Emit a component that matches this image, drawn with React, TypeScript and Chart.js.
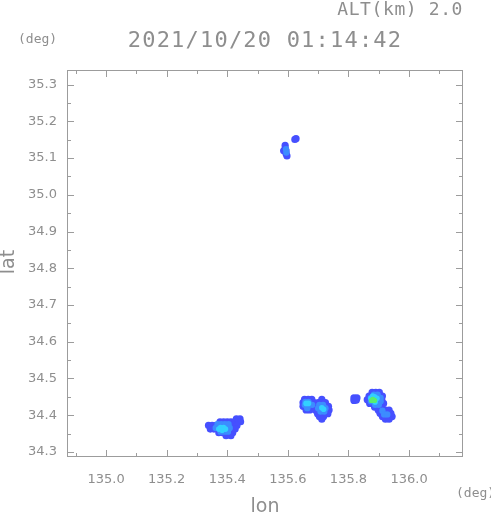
import React, { useEffect, useRef } from 'react';
import { Chart, registerables } from 'chart.js';

Chart.register(...registerables);

const xMin = 134.871;
const xMax = 136.178;
const yMin = 34.286;
const yMax = 35.34;

const titleText = '2021/10/20 01:14:42';
const altText = 'ALT(km) 2.0';
const unitText = '(deg)';
const xTitle = 'lon';
const yTitle = 'lat';

// Level 1 (weak echo, blue)
const level1Lon = [
  135.430, 135.442,
  135.376, 135.388, 135.400, 135.412, 135.424, 135.436, 135.444,
  135.338, 135.350, 135.362, 135.374, 135.386, 135.398, 135.410, 135.422, 135.432,
  135.344, 135.356, 135.368, 135.380, 135.392, 135.404, 135.416, 135.426,
  135.372, 135.384, 135.396, 135.408, 135.418,
  135.396, 135.412,
  135.655, 135.667, 135.679, 135.712,
  135.650, 135.662, 135.674, 135.686, 135.700, 135.712, 135.724,
  135.650, 135.662, 135.674, 135.686, 135.698, 135.710, 135.722, 135.734,
  135.660, 135.672, 135.690, 135.702, 135.714, 135.726, 135.736,
  135.698, 135.710, 135.722, 135.732,
  135.704, 135.718, 135.712,
  135.818, 135.828, 135.818, 135.826,
  135.878, 135.890, 135.902,
  135.868, 135.880, 135.892, 135.904, 135.912,
  135.862, 135.874, 135.886, 135.898, 135.910,
  135.870, 135.882, 135.894, 135.906, 135.916,
  135.886, 135.898, 135.908,
  135.898, 135.910, 135.922, 135.934,
  135.904, 135.916, 135.928, 135.940,
  135.912, 135.924, 135.936, 135.944,
  135.922, 135.934,
  135.591, 135.591, 135.594, 135.594, 135.597, 135.586,
  135.627, 135.623,
];
const level1Lat = [
  34.390, 34.390,
  34.382, 34.382, 34.382, 34.382, 34.382, 34.382, 34.382,
  34.372, 34.372, 34.372, 34.372, 34.372, 34.372, 34.372, 34.372, 34.372,
  34.362, 34.362, 34.362, 34.362, 34.362, 34.362, 34.362, 34.362,
  34.352, 34.352, 34.352, 34.352, 34.352,
  34.344, 34.344,
  34.443, 34.443, 34.443, 34.443,
  34.434, 34.434, 34.434, 34.434, 34.434, 34.434, 34.434,
  34.424, 34.424, 34.424, 34.424, 34.424, 34.424, 34.424, 34.424,
  34.414, 34.414, 34.414, 34.414, 34.414, 34.414, 34.414,
  34.404, 34.404, 34.404, 34.404,
  34.396, 34.396, 34.389,
  34.447, 34.447, 34.440, 34.441,
  34.462, 34.462, 34.462,
  34.452, 34.452, 34.452, 34.452, 34.452,
  34.442, 34.442, 34.442, 34.442, 34.442,
  34.432, 34.432, 34.432, 34.432, 34.432,
  34.422, 34.422, 34.422,
  34.414, 34.414, 34.414, 34.414,
  34.405, 34.405, 34.405, 34.405,
  34.396, 34.396, 34.396, 34.396,
  34.389, 34.389,
  35.135, 35.127, 35.120, 35.112, 35.106, 35.120,
  35.153, 35.151,
];

// Level 2 (moderate echo, light blue)
const level2Lon = [
  135.368, 135.380, 135.392, 135.404,
  135.362, 135.374, 135.398, 135.408,
  135.378, 135.390, 135.402,
  135.658, 135.668,
  135.656, 135.668, 135.680, 135.704, 135.716,
  135.664, 135.700, 135.712, 135.724,
  135.708, 135.720,
  135.884, 135.896,
  135.874, 135.886, 135.898, 135.906,
  135.874, 135.896, 135.906,
  135.888, 135.900,
  135.912,
  135.918, 135.928,
  135.594, 135.595,
];
const level2Lat = [
  34.375, 34.375, 34.375, 34.375,
  34.365, 34.365, 34.365, 34.365,
  34.355, 34.355, 34.355,
  34.436, 34.436,
  34.428, 34.428, 34.428, 34.428, 34.428,
  34.419, 34.419, 34.419, 34.419,
  34.410, 34.410,
  34.456, 34.456,
  34.447, 34.447, 34.447, 34.447,
  34.438, 34.438, 34.438,
  34.428, 34.428,
  34.412,
  34.402, 34.402,
  35.124, 35.115,
];

// Level 3 (strong echo, cyan)
const level3Lon = [
  135.378, 135.388, 135.383, 135.372, 135.394,
  135.660, 135.668, 135.712, 135.718,
  135.886, 135.894, 135.888, 135.874, 135.880,
];
const level3Lat = [
  34.366, 34.366, 34.359, 34.362, 34.362,
  34.432, 34.432, 34.420, 34.416,
  34.450, 34.446, 34.436, 34.446, 34.452,
];

// Level 4 (strongest echo, green)
const level4Lon = [135.880, 135.886, 135.876];
const level4Lat = [34.443, 34.440, 34.440];

const levelColors = ['#4650ff', '#3c8cff', '#32d0ff', '#5aee6e'];
const levelRadius = [3.6, 3.2, 2.8, 2.6];

const zip = (a: number[], b: number[]) => a.map((v, i) => ({ x: v, y: b[i] }));

const isMultiple = (v: number, step: number) => Math.abs(v / step - Math.round(v / step)) < 1e-6;

const TEXT = '#8e8e8e';
const LINE = '#9c9c9c';

const decorPlugin = {
  id: 'decor',
  afterDraw(chart: any) {
    const ctx = chart.ctx as CanvasRenderingContext2D;
    const { left, right, top, bottom } = chart.chartArea;
    const xs = chart.scales.x;
    const ys = chart.scales.y;
    ctx.save();
    ctx.strokeStyle = LINE;
    ctx.lineWidth = 1;
    ctx.strokeRect(Math.round(left) + 0.5, Math.round(top) + 0.5, Math.round(right - left) - 1, Math.round(bottom - top) - 1);
    ctx.beginPath();
    for (const t of xs.ticks) {
      const px = Math.round(xs.getPixelForValue(t.value)) + 0.5;
      const len = isMultiple(t.value, 0.2) ? 7 : 4;
      ctx.moveTo(px, bottom);
      ctx.lineTo(px, bottom - len);
      ctx.moveTo(px, top);
      ctx.lineTo(px, top + len);
    }
    for (const t of ys.ticks) {
      const py = Math.round(ys.getPixelForValue(t.value)) + 0.5;
      const len = isMultiple(t.value, 0.1) ? 7 : 4;
      ctx.moveTo(left, py);
      ctx.lineTo(left + len, py);
      ctx.moveTo(right, py);
      ctx.lineTo(right - len, py);
    }
    ctx.stroke();

    ctx.fillStyle = TEXT;
    ctx.textBaseline = 'middle';
    (ctx as any).letterSpacing = '0.6px';
    ctx.font = '18px "DejaVu Sans Mono"';
    ctx.textAlign = 'right';
    ctx.fillText(altText, 463, 10);

    (ctx as any).letterSpacing = '1.2px';
    ctx.font = '22px "DejaVu Sans Mono"';
    ctx.textAlign = 'center';
    ctx.fillText(titleText, 265, 41);

    (ctx as any).letterSpacing = '0px';
    ctx.font = '13px "DejaVu Sans Mono"';
    ctx.textAlign = 'left';
    ctx.fillText(unitText, 18, 40);
    ctx.fillText(unitText, 456, 494);

    ctx.font = '19px "DejaVu Sans"';
    ctx.textAlign = 'center';
    ctx.fillText(xTitle, 265, 507);

    ctx.translate(9, 262);
    ctx.rotate(-Math.PI / 2);
    ctx.fillText(yTitle, 0, 0);
    ctx.restore();
  },
};

export default function App() {
  const ref = useRef<HTMLCanvasElement | null>(null);
  useEffect(() => {
    if (!ref.current) return;
    const mk = (lon: number[], lat: number[], level: number) => ({
      data: zip(lon, lat),
      backgroundColor: levelColors[level],
      borderWidth: 0,
      pointStyle: 'circle',
      pointRadius: levelRadius[level],
      pointHoverRadius: levelRadius[level],
      order: 10 - level,
    });
    const chart = new Chart(ref.current, {
      type: 'scatter',
      data: {
        datasets: [
          mk(level1Lon, level1Lat, 0),
          mk(level2Lon, level2Lat, 1),
          mk(level3Lon, level3Lat, 2),
          mk(level4Lon, level4Lat, 3),
        ] as any,
      },
      options: {
        animation: false,
        responsive: false,
        devicePixelRatio: 1,
        layout: { padding: { left: 0, top: 70, right: 28, bottom: 0 } },
        plugins: { legend: { display: false }, tooltip: { enabled: false } },
        scales: {
          x: {
            type: 'linear',
            min: xMin,
            max: xMax,
            grid: { display: false, drawTicks: false },
            border: { display: false },
            afterFit: (s: any) => { s.height = 64; },
            ticks: {
              stepSize: 0.1,
              includeBounds: false,
              autoSkip: false,
              maxRotation: 0,
              padding: 15,
              color: TEXT,
              font: { family: 'DejaVu Sans', size: 13 },
              callback: (v: any) => (isMultiple(Number(v), 0.2) ? Number(v).toFixed(1) : ''),
            },
          },
          y: {
            type: 'linear',
            min: yMin,
            max: yMax,
            grid: { display: false, drawTicks: false },
            border: { display: false },
            afterFit: (s: any) => { s.width = 67; },
            ticks: {
              stepSize: 0.05,
              includeBounds: false,
              autoSkip: false,
              padding: 10,
              color: TEXT,
              font: { family: 'DejaVu Sans', size: 13 },
              callback: (v: any) => (isMultiple(Number(v), 0.1) ? Number(v).toFixed(1) : ''),
            },
          },
        },
      },
      plugins: [decorPlugin],
    } as any);
    return () => chart.destroy();
  }, []);
  return (
    <div style={{ position: 'absolute', left: 0, top: 0, width: 491, height: 521, background: '#fff' }}>
      <canvas ref={ref} width={491} height={521} style={{ width: 491, height: 521, display: 'block' }} />
    </div>
  );
}
